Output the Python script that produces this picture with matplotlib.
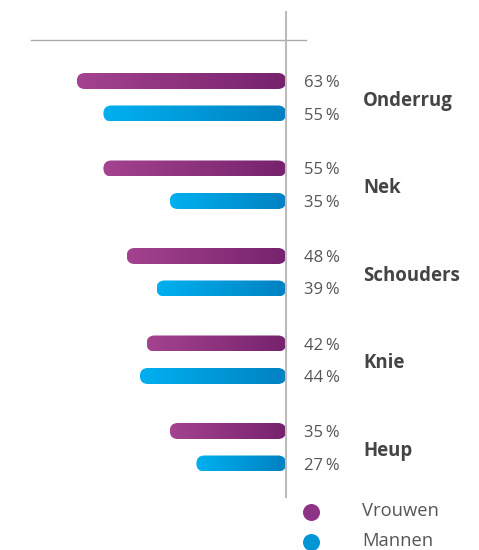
import numpy as np
import matplotlib
matplotlib.use("Agg")
import matplotlib.pyplot as plt
from matplotlib.patches import FancyBboxPatch
from matplotlib.colors import LinearSegmentedColormap

categories = ["Onderrug", "Nek", "Schouders", "Knie", "Heup"]
vrouwen = [63, 55, 48, 42, 35]
mannen = [55, 35, 39, 44, 27]
series_names = ["Vrouwen", "Mannen"]

plt.rcParams['font.family'] = ['Open Sans', 'DejaVu Sans']

W, H = 479, 550
fig = plt.figure(figsize=(W / 100, H / 100), dpi=100)
ax = fig.add_axes([0, 0, 1, 1])
PX = 3.32          # pixels per percent
X0 = 286           # pixel of zero
ax.set_xlim(X0 / PX, -(W - X0) / PX)
ax.set_ylim(H, 0)
ax.axis('off')

cmap_v = LinearSegmentedColormap.from_list('v', ['#76226d', '#a4438f'])
cmap_m = LinearSegmentedColormap.from_list('m', ['#0081c2', '#00b0ef'])

bar_h = 16
grad = np.linspace(0, 1, 256).reshape(1, -1)

def rbar(val, yc, cmap):
    r = (bar_h / 2) / PX
    patch = FancyBboxPatch((0, yc - bar_h / 2), val, bar_h,
                           boxstyle=f"round,pad=0,rounding_size={r}",
                           mutation_aspect=PX, linewidth=0,
                           facecolor='none', transform=ax.transData)
    ax.add_patch(patch)
    im = ax.imshow(grad, cmap=cmap, aspect='auto',
                   extent=(0, val, yc + bar_h / 2, yc - bar_h / 2),
                   interpolation='bilinear', zorder=2)
    im.set_clip_path(patch)

group_y0 = 81
group_step = 87.5
pair_gap = 32.5
txt_x = -(304 - X0) / PX
cat_x = -(363 - X0) / PX
grey = '#555555'
for i, cat in enumerate(categories):
    yv = group_y0 + i * group_step
    ym = yv + pair_gap
    rbar(vrouwen[i], yv, cmap_v)
    rbar(mannen[i], ym, cmap_m)
    ax.text(txt_x, yv + 2, f"{vrouwen[i]}\u2009%", ha='left', va='center',
            fontsize=12, color=grey)
    ax.text(txt_x, ym + 2, f"{mannen[i]}\u2009%", ha='left', va='center',
            fontsize=12, color=grey)
    ax.text(cat_x, (yv + ym) / 2 + 3.5, cat, ha='left', va='center',
            fontsize=13.4, fontweight='bold', color='#444444')

# axis lines
ax.plot([(X0 - 31) / PX, -(306 - X0) / PX], [40, 40], color='#aaaaaa', lw=1, zorder=1)
ax.plot([0, 0], [12, 497], color='#bbbbbb', lw=1.5, zorder=3)

# legend
leg_x = -(311 - X0) / PX
for j, (name, col) in enumerate(zip(series_names, ['#8f3386', '#0095d6'])):
    yy = 512 + j * 30
    ax.scatter([leg_x], [yy], s=150, color=col, zorder=4, linewidths=0)
    ax.text(-(362 - X0) / PX, yy - 0.5, name, ha='left', va='center',
            fontsize=13.2, color=grey)

fig.savefig('out.png', dpi=100)
